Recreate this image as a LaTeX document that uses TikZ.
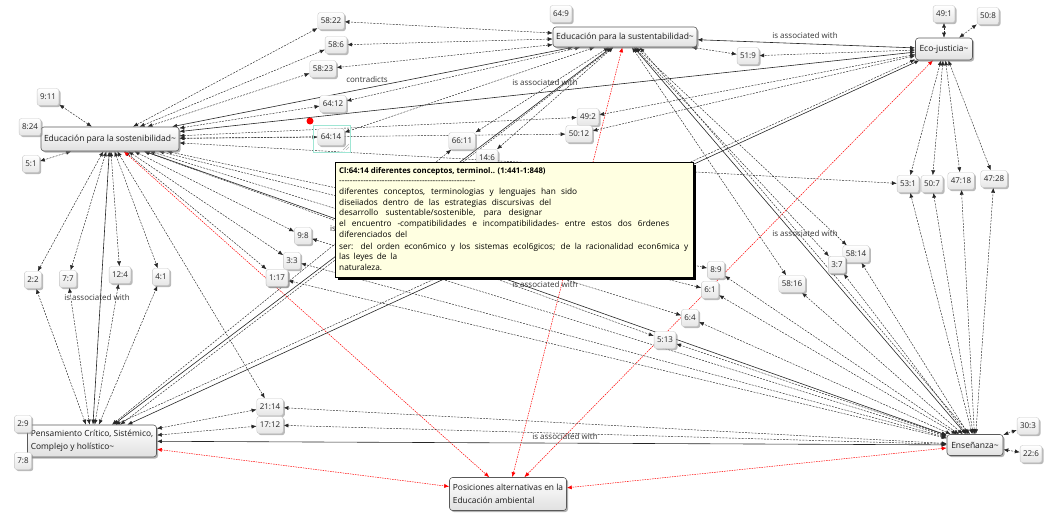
\documentclass[tikz,border=0pt]{standalone}
\usepackage{fontspec}
\setmainfont{Open Sans}
\usetikzlibrary{arrows.meta,shadows}
\pgfdeclarelayer{links}
\pgfsetlayers{links,main}
\definecolor{tipbg}{HTML}{FFFFE1}
\definecolor{selframe}{HTML}{9FE6D4}
\newcommand\nodefont{\fontsize{8}{9.6}\selectfont}
\newcommand\hubfont{\fontsize{8.5}{10}\selectfont}
\newcommand\twolinefont{\fontsize{8.4}{13.5}\selectfont}
\newcommand\tipfont{\fontsize{8.3}{9.5}\selectfont}
\newcommand\tiptitlefont{\fontsize{7.8}{9}\selectfont\bfseries}
\begin{document}
\begin{tikzpicture}[x=1pt, y=-1pt, >={Latex[length=5pt,width=4pt]},
  qbox/.style={rounded corners=2.5pt, draw=black!22, top color=white, bottom color=black!10,
    drop shadow={shadow xshift=1.6pt, shadow yshift=-1.6pt, fill=black!45, opacity=0.6},
    inner xsep=3pt, inner ysep=0pt, minimum height=17pt, font=\nodefont, text=black!85},
  hub/.style={rounded corners=3pt, draw=black!65, line width=0.6pt, top color=white, bottom color=black!12,
    drop shadow={shadow xshift=1.6pt, shadow yshift=-1.6pt, fill=black!50, opacity=0.6},
    inner sep=2pt, font=\hubfont, text=black!90},
  dl/.style={<->, draw=black!85, line width=0.45pt, dash pattern=on 2pt off 1.2pt},
  sl/.style={<->, draw=black!85, line width=0.6pt},
  rl/.style={<->, draw=red, line width=0.5pt, dash pattern=on 1.5pt off 1pt},
  lbl/.style={font=\nodefont, text=black!80, inner sep=0pt},
  tline/.style={font=\tipfont, inner sep=0pt, anchor=base west, text=black}]
\useasboundingbox (0,0) rectangle (1045,513);

% ---- main codes ----
\node[hub, minimum width=138pt, minimum height=24pt] (es) at (110,139) {Educación para la sostenibilidad\textasciitilde};
\node[hub, minimum width=144pt, minimum height=20pt] (est) at (625,37) {Educación para la sustentabilidad\textasciitilde};
\node[hub, minimum width=57pt, minimum height=22pt] (eco) at (944,49) {Eco-justicia\textasciitilde};
\node[hub, minimum width=129pt, minimum height=32pt, align=left, font=\twolinefont] (pc) at (92,441) {Pensamiento Crítico, Sistémico,\\Complejo y holístico\textasciitilde};
\node[hub, minimum width=56pt, minimum height=21pt] (en) at (975,445) {Enseñanza\textasciitilde};
\node[hub, minimum width=117pt, minimum height=33pt, align=left, font=\twolinefont] (pa) at (508,494) {Posiciones alternativas en la\\Educación ambiental};

% ---- quotations ----
\node[qbox] (n5822) at (331,21) {58:22};
\node[qbox] (n586) at (336,45) {58:6};
\node[qbox] (n5823) at (323,69) {58:23};
\node[qbox] (n6412) at (333,104) {64:12};
\node[qbox] (n6414) at (331,137) {64:14};
\node[qbox] (n911) at (48,97) {9:11};
\node[qbox] (n51) at (31,164) {5:1};
\node[qbox] (n649) at (561,14) {64:9};
\node[qbox] (n491) at (944,14) {49:1};
\node[qbox] (n508) at (988,16) {50:8};
\node[qbox] (n519) at (748,56) {51:9};
\node[qbox] (n6611) at (462,141) {66:11};
\node[qbox] (n146) at (487,158) {14:6};
\node[qbox] (n492) at (588,117) {49:2};
\node[qbox] (n5012) at (579,134) {50:12};
\node[qbox] (n531) at (908,184) {53:1};
\node[qbox] (n507) at (932,184) {50:7};
\node[qbox] (n4718) at (961,181) {47:18};
\node[qbox] (n4728) at (994,179) {47:28};
\node[qbox] (n5814) at (856,254) {58:14};
\node[qbox] (n37) at (837,265) {3:7};
\node[qbox] (n5816) at (792,284) {58:16};
\node[qbox] (n89) at (716,270) {8:9};
\node[qbox] (n61) at (710,290) {6:1};
\node[qbox] (n64) at (690,318) {6:4};
\node[qbox] (n513) at (665,340) {5:13};
\node[qbox] (n98) at (303,236) {9:8};
\node[qbox] (n33) at (292,261) {3:3};
\node[qbox] (n117) at (277,278) {1:17};
\node[qbox] (n22) at (33,280) {2:2};
\node[qbox] (n77) at (68,279) {7:7};
\node[qbox] (n124) at (120,275) {12:4};
\node[qbox] (n41) at (161,277) {4:1};
\node[qbox] (n2114) at (270,407) {21:14};
\node[qbox] (n1712) at (270,425) {17:12};
\node[qbox] (n303) at (1028,426) {30:3};
\node[qbox] (n226) at (1031,454) {22:6};
% quotations that overlap the code boxes next to them
\node[qbox] (n824) at (30,127) {8:24};
\node[qbox] (n29) at (23,424) {2:9};
\node[qbox] (n78) at (23,461) {7:8};

% ---- links and their labels ----
\begin{pgfonlayer}{links}
% Educación para la sostenibilidad
\foreach \t in {n911,n51,n5822,n586,n5823,n6412,n6414,n492,n5012,n531,
                n22,n77,n124,n41,n2114,n98,n33,n117,n89,n61,n64,n513}
  \draw[dl] (es) -- (\t);
\draw[sl] (es) -- (est);
\draw[sl] (es) -- (eco);
\draw[sl] (es) -- (pc);
\draw[sl] (es) -- (en);
\draw[rl] (es) -- (pa);
% Educación para la sustentabilidad
\foreach \t in {n5822,n586,n5823,n6412,n6414,n6611,n146,n519,n5816,n37,n5814}
  \draw[dl] (est) -- (\t);
\draw[sl] (est) -- (eco);
\draw[sl] (est) -- (pc);
\draw[dl] (est.-140) -- (pc.30);
\draw[sl] (est) -- (en);
\draw[dl] (est.-35) -- (en.115);
\draw[rl] (est) -- (pa);
% Eco-justicia
\foreach \t in {n491,n508,n519,n492,n5012,n531,n507,n4718,n4728}
  \draw[dl] (eco) -- (\t);
\draw[sl] (eco) -- (pc);
\draw[dl] (eco.-160) -- (pc.35);
\draw[rl] (eco) -- (pa);
% Pensamiento crítico
\foreach \t in {n22,n77,n124,n41,n2114,n1712,n6611}
  \draw[dl] (pc) -- (\t);
\draw[sl] (pc) -- (en);
\draw[rl] (pc) -- (pa);
% Enseñanza
\foreach \t in {n303,n226,n2114,n1712,n531,n507,n4718,n4728,n5814,n37,n5816,
                n89,n61,n64,n513,n98,n33,n117}
  \draw[dl] (en) -- (\t);
\draw[rl] (en) -- (pa);

\node[lbl] (l1) at (805,36) {is associated with};
\node[lbl] (l2) at (367,80) {contradicts};
\node[lbl] (l3) at (545,83) {is associated with};
\node[lbl] (l4) at (333,229) {is};
\node[lbl] (l5) at (97,298) {is associated with};
\node[lbl] (l6) at (805,234) {is associated with};
\node[lbl] (l7) at (545,285) {is associated with};
\node[lbl] (l8) at (565,436) {is associated with};
\end{pgfonlayer}

% 3:7 and 1:17 sit in front of their neighbours
\node[qbox] at (837,265) {3:7};
\node[qbox] at (277,278) {1:17};

% selection frame, resize grip and marker on 64:14
\draw[selframe, line width=0.8pt] (313,125) rectangle (350,152);
\draw[black!30, line width=0.4pt] (343,150) -- (349,144) (346,150) -- (349,147);
\fill[red] (310,121) circle (3.5pt);

% ---- quotation tooltip ----
\node[draw=black, line width=0.6pt, fill=tipbg, anchor=north west, minimum width=358pt, minimum height=115pt,
      inner sep=0pt, drop shadow={shadow xshift=3pt, shadow yshift=-3pt, fill=black, opacity=1}] (tt) at (335,162) {};
\node[tline, font=\tiptitlefont] (t0) at (339,174) {Cl:64:14 diferentes conceptos, terminol.. (1:441-1:848)};
\node[tline] (t1) at (339,184) {\makebox[138pt]{\leaders\hbox{-}\hfill}};
\node[tline] (t2) at (339,194.5) {\makebox[238pt][s]{diferentes conceptos, terminologias y lenguajes han sido}};
\node[tline] (t3) at (339,205.5) {\makebox[212pt][s]{diseiiados dentro de las estrategias discursivas del}};
\node[tline] (t4) at (339,216) {\makebox[203pt][s]{desarrollo sustentable/sostenible, para designar}};
\node[tline] (t5) at (339,227) {\makebox[330pt][s]{el encuentro -compatibilidades e incompatibilidades- entre estos dos 6rdenes}};
\node[tline] (t6) at (339,238) {\makebox[68pt][s]{diferenciados del}};
\node[tline] (t7) at (339,249.5) {\makebox[349pt][s]{ser: del orden econ6mico y los sistemas ecol6gicos; de la racionalidad econ6mica y}};
\node[tline] (t8) at (339,260) {\makebox[58pt][s]{las leyes de la}};
\node[tline] (t9) at (339,271) {naturaleza.};
\end{tikzpicture}
\end{document}
